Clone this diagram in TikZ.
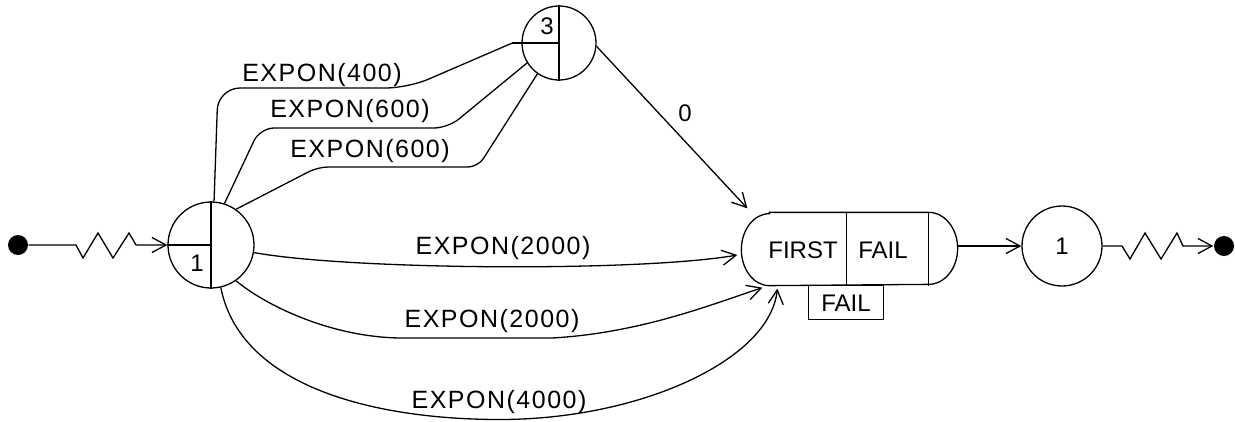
\documentclass[tikz,border=0pt]{standalone}
\usepackage{fontspec}
\setmainfont{Liberation Sans}
\newfontfamily\labfont[LetterSpace=6]{Liberation Sans}
\usetikzlibrary{arrows.meta,calc}
\begin{document}
\begin{tikzpicture}[x=1pt,y=-1pt,line width=1.3pt,
  lab/.style={font=\labfont\fontsize{25}{25}\selectfont,inner sep=0pt,text height=18pt,text depth=0pt},
  labn/.style={font=\fontsize{24}{24}\selectfont,inner sep=0pt,text height=17pt,text depth=0pt},
  ring/.style={draw,circle,inner sep=0pt},
  blackdot/.style={circle,fill=black,inner sep=0pt,minimum size=20pt},
  arr/.style={-{Straight Barb[length=14pt,width=15pt]}}]
\useasboundingbox (0,0) rectangle (1235,421);

% nodes
\node[blackdot] (src) at (18,245) {};
\node[ring,minimum size=86pt] (c1) at (211,245) {};
\draw (c1.north) -- (c1.south);
\draw (c1.west) -- (c1.center);
\node[labn] (n1) at (197,263) {1};

\node[ring,minimum size=74pt] (c3) at (559,43) {};
\draw (c3.north) -- (c3.south);
\draw ([xshift=-9pt]c3.west) -- (c3.center);
\node[labn] (n3) at (547,26) {3};

\node[minimum width=215pt,minimum height=72pt,inner sep=0pt] (ff) at (849.5,249) {};
\draw ([xshift=28pt]ff.north west) -- ([xshift=-29pt]ff.north east)
  arc[start angle=90,end angle=-90,x radius=29pt,y radius=36pt]
  -- ([xshift=28pt]ff.south west)
  arc[start angle=270,end angle=90,x radius=28pt,y radius=36pt] -- cycle;
\draw ([xshift=105pt]ff.north west) -- ([xshift=105pt]ff.south west);
\draw ([xshift=-29pt]ff.north east) -- ([xshift=-29pt]ff.south east);
\node[labn] (tfirst) at (803,250) {FIRST};
\node[labn] (tfail) at (883,250) {FAIL};
\node[draw,labn,minimum width=75pt,minimum height=34pt,anchor=north] (fbox) at (846,285) {FAIL};

\node[ring,minimum size=80pt] (c1b) at (1062,246) {};
\node[labn] (n1b) at (c1b) {1};
\node[blackdot] (snk) at (1224,246) {};

% connectors
\draw[arr] (src.east) -- (76,245) -- (83,258) -- (98,233) -- (113,258) -- (129,233) -- (136,245) -- (c1.west);
\draw[arr] (ff.east |- c1b.west) -- (c1b.west);
\draw[arr] (c1b.east) -- (1122,246) -- (1130,259) -- (1145,233) -- (1161,259) -- (1177,233) -- (1183,246) -- (snk.west);

\draw[arr] (c3.-5) -- ($(ff.north west)+(6,-4)$);
\node[labn] (l0) at (685,113) {0};

\draw[rounded corners=22pt] (c1.86) -- (218,88) -- (408,88) -- ([xshift=-9pt]c3.west);
\draw[rounded corners=14pt] (c1.72) -- (260,128) -- (448,128) -- (c3.212);
\draw[rounded corners=10pt] (c1.55) -- (318,167) -- (478,167) -- (c3.235);

\draw[arr] (c1.-10) .. controls (350,270) and (640,272) .. ($(ff.west)+(-4,6)$);
\draw[arr] (c1.-55) .. controls (265,305) and (330,337) .. (400,338) -- (552,338)
  .. controls (640,333) and (710,305) .. ($(ff.south west)+(21,2)$);
\draw[arr] (c1.-77) .. controls (240,385) and (370,419.5) .. (500,419.5)
  .. controls (640,419.5) and (770,360) .. ($(ff.south west)+(36,3)$);

% labels
\node[lab] (l400) at (322,72) {EXPON(400)};
\node[lab] (l600a) at (350,108) {EXPON(600)};
\node[lab] (l600b) at (370,148) {EXPON(600)};
\node[lab] (l2000a) at (503,245) {EXPON(2000)};
\node[lab] (l2000b) at (492,318) {EXPON(2000)};
\node[lab] (l4000) at (499,399) {EXPON(4000)};
\end{tikzpicture}
\end{document}
